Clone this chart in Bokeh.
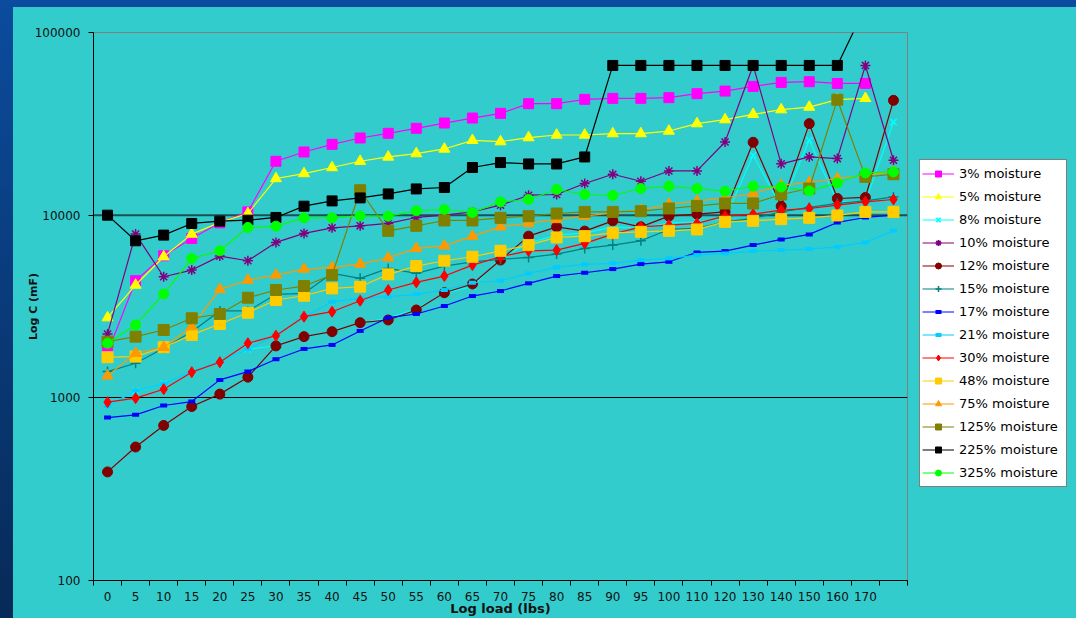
from bokeh.plotting import figure
from bokeh.models import (Range1d, FixedTicker, NumeralTickFormatter, CustomJSTickFormatter,
                          Legend, LegendItem, ColumnDataSource, Span)
from bokeh.layouts import row
from bokeh.embed import file_html
from bokeh.resources import INLINE

nan = float("nan")

# Load steps (lbs); the last step carries no label on the axis
loads = ["0", "5", "10", "15", "20", "25", "30", "35", "40", "45", "50", "55", "60", "65",
         "70", "75", "80", "85", "90", "95", "100", "110", "120", "130", "140", "150",
         "160", "170", ""]

# Capacitance (mF) per moisture level
m3 = [1768, 4375, 5995, 7458, 9077, 10420, 19730, 22180, 24430, 26450, 28060, 29890, 31940,
      34020, 36080, 40770, 40770, 43050, 43590, 43590, 43980, 46240, 47780, 50690, 53300,
      53770, 52640, 52640, nan]
m5 = [2747, 4145, 5919, 7876, 9124, 10210, 15870, 16900, 18230, 19730, 20830, 21740, 23040,
      25690, 25270, 26590, 27470, 27470, 27960, 27960, 28880, 31700, 33340, 35630, 37810,
      39070, 42880, 43590, nan]
m8 = [904, 1092, 1193, 1387, 1573, 1845, 1924, 2154, 2294, 2569, 2736, 3064, 3748, 4057,
      5821, 7031, 7777, 7975, 8631, 8459, 9077, 9192, 9594, 21280, 11100, 25690, 11820,
      11820, 32340]
m10 = [2237, 7876, 4601, 5006, 5970, 5628, 7092, 7943, 8522, 8740, 9008, 9714, 10000, 10420,
       11340, 12860, 12980, 14900, 16750, 15340, 17460, 17460, 25150, 66020, 19090, 20830,
       20410, 66020, 19980]
m12 = [393, 538, 706, 896, 1048, 1298, 1924, 2163, 2303, 2579, 2668, 3026, 3762, 4198, 5678,
       7677, 8631, 8177, 9309, 8631, 9875, 10130, 10420, 25060, 11200, 31700, 12340, 12500,
       42510]
m15 = [1392, 1547, 1868, 2303, 2989, 2989, 3687, 3734, 4802, 4510, 5112, 4802, 5262, 5556,
       5728, 5873, 6123, 6577, 6856, 7238, 8353, 8459, 9192, 9594, 10420, 11020, 11590,
       11970, 12590]
m17 = [780, 807, 908, 954, 1254, 1392, 1627, 1852, 1948, 2323, 2747, 2877, 3183, 3608, 3843,
       4235, 4642, 4839, 5069, 5398, 5556, 6254, 6360, 6856, 7365, 7845, 9124, 9714, 10000]
m21 = [896, 1096, 1193, 1392, 1579, 1845, 2210, 2782, 3359, 3500, 3578, 3687, 3892, 4267,
       4375, 4802, 5179, 5378, 5446, 5678, 5800, 6046, 6175, 6360, 6437, 6521, 6712, 7092,
       8207]
m30 = [947, 996, 1115, 1382, 1567, 1990, 2190, 2782, 2962, 3401, 3892, 4288, 4642, 5331,
       5919, 6380, 6437, 7005, 7876, 8631, 8818, 9008, 9875, 10130, 10650, 10880, 11340,
       11820, 12180]
m48 = [1669, 1682, 1892, 2210, 2537, 2925, 3431, 3622, 3976, 4057, 4742, 5262, 5628, 5919,
       6380, 6856, 7552, 7677, 8004, 8104, 8207, 8353, 9192, 9309, 9509, 9666, 9963, 10420,
       10420]
m75 = [1319, 1755, 1892, 2452, 3926, 4414, 4701, 5069, 5179, 5398, 5844, 6577, 6795, 7677,
       8631, 9008, 9474, 9875, 10290, 10650, 11480, 11930, 12460, 13140, 14590, 15090, 15870,
       16540, 17240]
m125 = [2031, 2163, 2352, 2726, 2877, 3533, 3892, 4093, 4701, 13690, 8207, 8740, 9354, 9354,
        9666, 9875, 10210, 10420, 10420, 10520, 10880, 11240, 11590, 11590, 12980, 13990,
        42880, 16200, 16750]
m225 = [10000, 7238, 7777, 9008, 9274, 9391, 9714, 11200, 11970, 12430, 13070, 13920, 14170,
        18230, 19410, 19070, 19070, 20830, 66020, 66020, 66020, 66020, 66020, 66020, 66020,
        66020, 66020, 138000, nan]
m325 = [1990, 2506, 3701, 5800, 6380, 8566, 8709, 9666, 9666, 9913, 9875, 10560, 10740, 10340,
        11820, 12180, 13820, 12980, 12810, 13990, 14400, 13990, 13520, 14400, 14260, 13580,
        15010, 17030, 17240]

names = ["3% moisture", "5% moisture", "8% moisture", "10% moisture", "12% moisture",
         "15% moisture", "17% moisture", "21% moisture", "30% moisture", "48% moisture",
         "75% moisture", "125% moisture", "225% moisture", "325% moisture"]
values = [m3, m5, m8, m10, m12, m15, m17, m21, m30, m48, m75, m125, m225, m325]

# Styling per series: colour, marker, marker size
colors = ["#FF00FF", "#FFFF00", "#00FFFF", "#800080", "#800000", "#008080", "#0000FF",
          "#00CCFF", "#FF0000", "#FFCC00", "#FF9900", "#808000", "#000000", "#00FF00"]
markers = ["square", "triangle", "x", "asterisk", "circle", "cross", "dash", "dash",
           "diamond", "square", "triangle", "square", "square", "circle"]
sizes = [10, 11, 9, 10, 10, 10, 7, 7, 11, 11, 11, 11, 10, 10]

CYAN = "#33CCCC"
FONT = "DejaVu Sans"
INK = "#111111"


def add_series(fig, source, col, mk, sz):
    ln = fig.line("x", "y", source=source, line_color=col, line_width=1.2)
    if mk == "dash":
        mr = fig.scatter("x", "y", source=source, marker="dash", size=sz, line_color=col,
                         line_width=4, line_cap="butt")
    elif mk in ("x", "asterisk", "cross"):
        mr = fig.scatter("x", "y", source=source, marker=mk, size=sz, line_color=col,
                         line_width=1.5)
    else:
        mr = fig.scatter("x", "y", source=source, marker=mk, size=sz, fill_color=col,
                         line_color=col)
    return ln, mr


# ---- main chart ----
p = figure(width=895, height=611, output_backend="svg", toolbar_location=None,
           x_range=Range1d(0, len(loads)), y_range=Range1d(100, 100000), y_axis_type="log",
           min_border_left=80, min_border_right=1, min_border_top=25, min_border_bottom=37,
           background_fill_color=CYAN, border_fill_color=CYAN,
           outline_line_color="#808080", outline_line_width=1)
p.margin = (7, 0, 0, 13)

# x axis: labels centred in each load slot, tick marks on slot boundaries
xa = p.xaxis[0]
xa.ticker = FixedTicker(ticks=[i + 0.5 for i in range(len(loads))],
                        minor_ticks=list(range(len(loads) + 1)))
xa.formatter = CustomJSTickFormatter(args=dict(labels=loads),
                                     code="const i = Math.floor(tick); return labels[i] || '';")
xa.major_tick_line_color = None
xa.major_tick_out = 5
xa.major_tick_in = 0
xa.minor_tick_out = 5
xa.minor_tick_in = 0
xa.minor_tick_line_color = "black"
xa.axis_line_color = "black"
xa.major_label_standoff = 6
xa.major_label_text_font = FONT
xa.major_label_text_font_size = "12px"
xa.major_label_text_color = INK
xa.axis_label = "Log load (lbs)"
xa.axis_label_text_font = FONT
xa.axis_label_text_font_size = "13px"
xa.axis_label_text_font_style = "bold"
xa.axis_label_text_color = INK
xa.axis_label_standoff = -3

ya = p.yaxis[0]
ya.ticker = FixedTicker(ticks=[100, 1000, 10000, 100000], minor_ticks=[])
ya.formatter = NumeralTickFormatter(format="0")
ya.major_tick_out = 5
ya.major_tick_in = 0
ya.major_tick_line_color = "black"
ya.minor_tick_line_color = None
ya.axis_line_color = "black"
ya.major_label_standoff = 8
ya.major_label_text_font = FONT
ya.major_label_text_font_size = "12px"
ya.major_label_text_color = INK
ya.axis_label = "Log C (mF)"
ya.axis_label_text_font = FONT
ya.axis_label_text_font_size = "11px"
ya.axis_label_text_font_style = "bold"
ya.axis_label_text_color = INK
ya.axis_label_standoff = -8

# horizontal rules: thin at 1000, heavier at 10000
p.xgrid.grid_line_color = None
p.ygrid.ticker = FixedTicker(ticks=[1000])
p.ygrid.grid_line_color = "black"
p.ygrid.grid_line_width = 1
p.add_layout(Span(location=10000, dimension="width", line_color="#1a5252", line_width=2,
                  level="underlay"))

xs = [i + 0.5 for i in range(len(loads))]
for vals, col, mk, sz in zip(values, colors, markers, sizes):
    add_series(p, ColumnDataSource(dict(x=xs, y=vals)), col, mk, sz)

# ---- legend panel to the right of the chart ----
side = figure(width=168, height=611, output_backend="svg", toolbar_location=None,
              x_range=Range1d(0, 1), y_range=Range1d(0, 1),
              x_axis_location=None, y_axis_location=None,
              min_border=0, background_fill_color=CYAN, border_fill_color=CYAN,
              outline_line_color=None)
side.margin = (7, 0, 0, 0)
side.xgrid.grid_line_color = None
side.ygrid.grid_line_color = None

# legend swatches: one off-range point per series so each glyph has a style to draw
items = []
for name, col, mk, sz in zip(names, colors, markers, sizes):
    ln, mr = add_series(side, ColumnDataSource(dict(x=[-5.0], y=[-5.0])), col, mk, sz)
    items.append(LegendItem(label=name, renderers=[ln, mr]))

legend = Legend(items=items, location=(11, 93), orientation="vertical",
                background_fill_color="white", background_fill_alpha=1.0,
                border_line_color="black", border_line_width=1,
                label_text_font=FONT, label_text_font_size="13px", label_text_color="black",
                label_text_align="left",
                glyph_width=32, glyph_height=15, label_height=23, label_width=105,
                label_standoff=5, spacing=0, padding=2, margin=0)
side.add_layout(legend)

# slide backdrop: dark blue edge strips, chart area in cyan behind both panels
backdrop = ("linear-gradient(#33CCCC, #33CCCC) 13px 7px / 100% 100% no-repeat, "
            "linear-gradient(180deg, #0b4c9e 0%, #0a3c7c 45%, #072a58 100%)")
page = row(p, side, styles={"background": backdrop})

open("out.html", "w").write(file_html(page, INLINE))
